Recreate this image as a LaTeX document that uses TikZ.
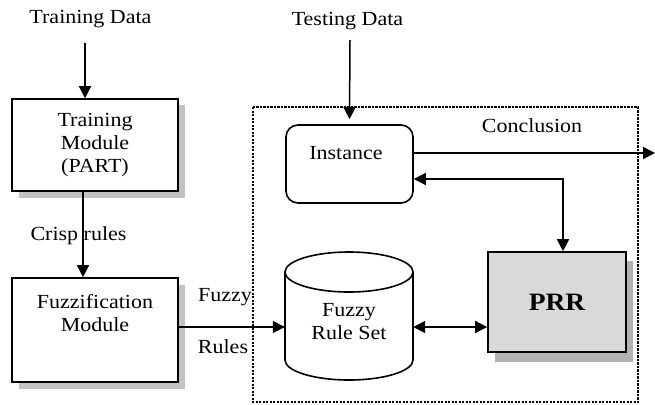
\documentclass[tikz,border=0pt]{standalone}
\usepackage{fontspec}
\setmainfont{Liberation Serif}[FakeStretch=1.1]
\usetikzlibrary{arrows.meta}

\begin{document}
\begin{tikzpicture}[x=1bp, y=-1bp,
  every node/.style={font=\fontsize{20bp}{23bp}\selectfont, inner sep=0pt, align=center},
  box/.style={draw, line width=1.6bp, fill=white},
  rbox/.style={box, rounded corners=12bp},
  shade/.style={fill=black!24},
  tip/.tip={Triangle[length=12bp, width=12bp]},
  arr/.style={line width=1.5bp, -tip},
  darr/.style={line width=1.5bp, tip-tip},
  dotbox/.style={line width=2.6bp, dash pattern=on 2.2bp off 1.3bp},
]
\useasboundingbox (0,0) rectangle (655,404);

% drop shadows of the module boxes
\fill[shade] (19,105) rectangle (185,198);
\fill[shade] (19,285) rectangle (185,389);
\fill[shade, black!30] (495,261) rectangle (633,362);

% left column: training and fuzzification
\node (trd) at (90.5,19) {Training Data};
\node[box, minimum width=166bp, minimum height=92bp] (tm) at (95,145)
  {Training\\Module\\(PART)};
\node[box, minimum width=166bp, minimum height=104bp] (fm) at (95,330) {};
\node (fmtext) at (95,313) {Fuzzification\\Module};

\coordinate (trin) at (85,43);
\draw[arr] (trin) -- (trin |- tm.north);
\draw[arr] ([xshift=-12bp]tm.south) -- ([xshift=-12bp]fm.north);
\node (crisp) at (78.5,236) {Crisp rules};

% inference area
\draw[dotbox] (253,107) rectangle (638,402);

\node (tsd) at (347.5,21) {Testing Data};
\node[rbox, minimum width=127bp, minimum height=78bp] (inst) at (349.5,164) {};
\node (insttext) at (346,153) {Instance};

\coordinate (tsin) at (350,40);
\draw[arr] (tsin) -- ([yshift=5bp]inst.north);

% rule base drawn as a cylinder
\draw[line width=1.6bp, fill=white] (285,272) -- (285,360)
  arc[start angle=180, end angle=360, x radius=64bp, y radius=20bp] -- (413,272);
\draw[line width=1.6bp, fill=white] (349,272) ellipse[x radius=64bp, y radius=20bp];
\node[minimum width=128bp, minimum height=106bp] (frs) at (349,327) {};
\node (frstext) at (349,321.5) {Fuzzy\\Rule Set};

\node[box, fill=black!15, minimum width=138bp, minimum height=100bp,
  font=\fontsize{25bp}{28bp}\selectfont\bfseries] (prr) at (557,302) {PRR};

% connectors
\draw[arr] ([yshift=3bp]fm.east) -- ([yshift=3bp]fm.east -| frs.west);
\node (fz) at (225,297) {Fuzzy};
\node (rl) at (223,347) {Rules};

\draw[darr] (frs.east) -- (frs.east -| prr.west);

\coordinate (out) at (655,153);
\draw[arr] (inst.east |- out) -- (out);
\node (concl) at (532,126) {Conclusion};

\draw[darr] ([yshift=-15bp]inst.east) -| ([xshift=6bp]prr.north);
\end{tikzpicture}
\end{document}
